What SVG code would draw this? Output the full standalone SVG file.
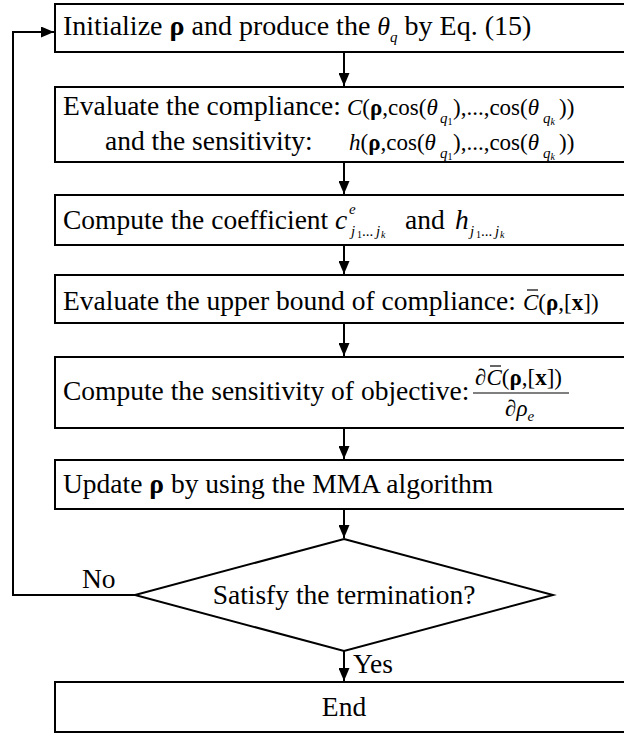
<svg xmlns="http://www.w3.org/2000/svg" width="624" height="733" viewBox="0 0 624 733" font-family="'Liberation Serif', 'Times New Roman', serif">
<style>
.box{fill:#fff;stroke:#000;stroke-width:2}
text{font-family:'Liberation Serif','Times New Roman',serif;fill:#000}
.t{font-size:27.5px}
.f{font-size:23px}
.i{font-style:italic}
.b{font-weight:bold}
.q{font-size:15px;font-style:italic}
.n{font-size:10px}
.c{fill:none;stroke:#000;stroke-width:2}
.bar{stroke:#000;stroke-width:1.2}
</style>
<defs>
<marker id="ah" viewBox="0 0 13 11" refX="13" refY="5.5" markerWidth="13" markerHeight="11" markerUnits="userSpaceOnUse" orient="auto"><path d="M0,0 L13,5.5 L0,11 z" fill="#000"/></marker>
</defs>
<g id="connectors">
<path class="c" d="M344,52 V86" marker-end="url(#ah)"/>
<path class="c" d="M344,162 V194" marker-end="url(#ah)"/>
<path class="c" d="M344,245 V274" marker-end="url(#ah)"/>
<path class="c" d="M344,323 V356" marker-end="url(#ah)"/>
<path class="c" d="M344,428 V459" marker-end="url(#ah)"/>
<path class="c" d="M344,509 V538" marker-end="url(#ah)"/>
<path class="c" d="M344,651 V681" marker-end="url(#ah)"/>
<path class="c" d="M135,595 H13 V32 H54" marker-end="url(#ah)"/>
<text class="t" x="82" y="588">No</text>
<text class="t" x="353" y="673">Yes</text>
</g>
<g id="n1">
<rect class="box" x="55" y="4" width="580" height="48"/>
<text x="63" y="35" font-size="28">Initialize <tspan class="b">ρ</tspan> and produce the <tspan class="i" font-size="26">θ</tspan><tspan class="q" dy="7">q</tspan><tspan dy="-7"> by Eq. (15)</tspan></text>
</g>
<g id="n2">
<rect class="box" x="55" y="87" width="580" height="75"/>
<text class="t" x="63" y="115">Evaluate the compliance:</text>
<text class="f" y="115"><tspan x="347" class="i">C</tspan>(<tspan class="b">ρ</tspan>,cos(<tspan class="i">θ</tspan><tspan class="q" x="440" dy="8">q</tspan><tspan class="n" dy="2">1</tspan><tspan x="453" dy="-10">),...,cos(</tspan><tspan class="i">θ</tspan><tspan class="q" x="543" dy="8">q</tspan><tspan class="n i" dy="2">k</tspan><tspan x="559" dy="-10">))</tspan></text>
<text class="t" x="105" y="150">and the sensitivity:</text>
<text class="f" y="150"><tspan x="349" class="i">h</tspan>(<tspan class="b">ρ</tspan>,cos(<tspan class="i">θ</tspan><tspan class="q" x="440" dy="8">q</tspan><tspan class="n" dy="2">1</tspan><tspan x="453" dy="-10">),...,cos(</tspan><tspan class="i">θ</tspan><tspan class="q" x="543" dy="8">q</tspan><tspan class="n i" dy="2">k</tspan><tspan x="559" dy="-10">))</tspan></text>
</g>
<g id="n3">
<rect class="box" x="55" y="195" width="580" height="50"/>
<text class="t" x="63" y="229">Compute the coefficient <tspan class="i" x="335">c</tspan></text>
<text class="q" x="349" y="214">e</text>
<text class="q" y="236"><tspan x="351">j</tspan><tspan class="n" font-style="normal" x="357" dy="2">1</tspan><tspan font-style="normal" x="362" dy="-2">...</tspan><tspan x="376">j</tspan><tspan class="n" x="381" dy="2">k</tspan></text>
<text class="t" x="405" y="229">and <tspan class="i" x="455">h</tspan></text>
<text class="q" y="236"><tspan x="470">j</tspan><tspan class="n" font-style="normal" x="476" dy="2">1</tspan><tspan font-style="normal" x="481" dy="-2">...</tspan><tspan x="495">j</tspan><tspan class="n" x="500" dy="2">k</tspan></text>
</g>
<g id="n4">
<rect class="box" x="55" y="275" width="580" height="48"/>
<text class="t" x="63" y="310">Evaluate the upper bound of compliance:</text>
<text class="f" x="523" y="310" font-size="24"><tspan class="i">C</tspan>(<tspan class="b">ρ</tspan>,[<tspan class="b">x</tspan>])</text>
<line class="bar" x1="527" y1="290" x2="538" y2="290"/>
</g>
<g id="n5">
<rect class="box" x="55" y="357" width="580" height="71"/>
<text class="t" x="63" y="400">Compute the sensitivity of objective:</text>
<text class="f" x="475" y="385" font-size="24">∂<tspan class="i">C</tspan>(<tspan class="b">ρ</tspan>,[<tspan class="b">x</tspan>])</text>
<line class="bar" x1="490" y1="366" x2="501" y2="366"/>
<line class="bar" x1="473" y1="393" x2="569" y2="393"/>
<text class="f" x="505" y="416" font-size="24">∂<tspan class="i">ρ</tspan><tspan class="q" font-size="13" dy="5">e</tspan></text>
</g>
<g id="n6">
<rect class="box" x="55" y="460" width="580" height="49"/>
<text class="t" x="63" y="493">Update <tspan class="b">ρ</tspan> by using the MMA algorithm</text>
</g>
<g id="n7">
<polygon class="box" points="344,539 553,595 344,651 135,595"/>
<text class="t" x="344" y="604" text-anchor="middle">Satisfy the termination?</text>
</g>
<g id="n8">
<rect class="box" x="55" y="682" width="580" height="50"/>
<text class="t" x="344" y="716" text-anchor="middle">End</text>
</g>
</svg>
